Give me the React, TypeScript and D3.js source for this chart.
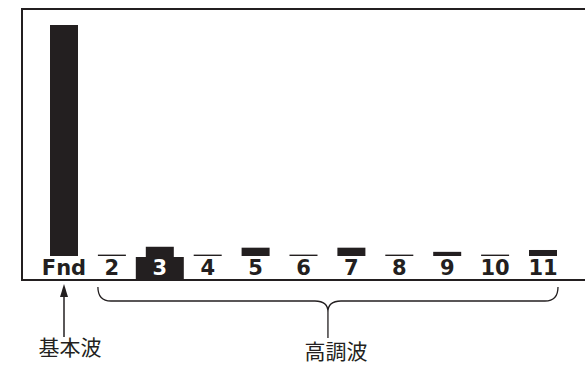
import * as d3 from 'd3';

// harmonic order labels and amplitude (% of fundamental)
const orders = ['Fnd', '2', '3', '4', '5', '6', '7', '8', '9', '10', '11'];
const amplitude = [100, 0.6, 4.0, 0.6, 3.6, 0.6, 3.6, 0.6, 1.8, 0.6, 2.6];
const selectedOrder = '3';
const fundLabel = '基本波';
const harmLabel = '高調波';

const W = 585;
const H = 365;
const ink = '#231f20';

export default function App() {
  const frame = { left: 22, top: 9, bottom: 280 };
  const baseY = 256;

  const x = d3.scalePoint<string>().domain(orders).range([64, 543]);
  const y = d3.scaleLinear().domain([0, 100]).range([baseY, 25]);
  const barW = 28;
  const cellW = 48;

  const xs = x(selectedOrder) as number;
  const xFirst = x('2') as number;
  const xLast = x('11') as number;
  const braceL = xFirst - 14;
  const braceR = xLast + 15;
  const mid = (braceL + braceR) / 2;
  const by = 301;
  const arrowX = x('Fnd') as number;

  const bracePath =
    `M${braceL},287 Q${braceL},${by} ${braceL + 13},${by} L${mid - 13},${by} ` +
    `Q${mid},${by} ${mid},${by + 11} Q${mid},${by} ${mid + 13},${by} ` +
    `L${braceR - 13},${by} Q${braceR},${by} ${braceR},287`;

  return (
    <svg width={W} height={H} style={{ position: 'absolute', left: 0, top: 0, background: '#fff' }}>
      {/* frame: left, top, bottom (open on the right) */}
      <path
        d={`M${W},${frame.top} L${frame.left},${frame.top} L${frame.left},${frame.bottom} L${W},${frame.bottom}`}
        fill="none"
        stroke={ink}
        strokeWidth={2}
      />
      {/* highlight cell behind the selected order */}
      <rect x={xs - cellW / 2} y={baseY + 1} width={cellW} height={frame.bottom - baseY - 1} fill={ink} />
      {/* bars */}
      {orders.map((o, i) => {
        const h = Math.max(1.4, baseY - y(amplitude[i]));
        return (
          <rect
            key={o}
            x={(x(o) as number) - barW / 2}
            y={baseY - h}
            width={barW}
            height={h + (o === selectedOrder ? 1 : 0)}
            fill={ink}
          />
        );
      })}
      {/* order labels */}
      {orders.map(o => (
        <text
          key={'t' + o}
          x={x(o)}
          y={275}
          textAnchor="middle"
          fontFamily="'DejaVu Sans', sans-serif"
          fontWeight="bold"
          fontSize={21}
          fill={o === selectedOrder ? '#fff' : ink}
        >
          {o}
        </text>
      ))}
      {/* fundamental arrow */}
      <line x1={arrowX} y1={337} x2={arrowX} y2={294} stroke={ink} strokeWidth={1.5} />
      <path d={`M${arrowX},284 L${arrowX - 4},297 L${arrowX + 4},297 Z`} fill={ink} />
      {/* harmonics brace */}
      <path d={bracePath} fill="none" stroke={ink} strokeWidth={1.3} />
      <line x1={mid} y1={by + 11} x2={mid} y2={338} stroke={ink} strokeWidth={1.3} />
      <text x={70} y={355} textAnchor="middle" fontFamily="'Noto Sans CJK JP', sans-serif" fontSize={21} fill={ink}>
        {fundLabel}
      </text>
      <text x={336} y={359} textAnchor="middle" fontFamily="'Noto Sans CJK JP', sans-serif" fontSize={21} fill={ink}>
        {harmLabel}
      </text>
    </svg>
  );
}
